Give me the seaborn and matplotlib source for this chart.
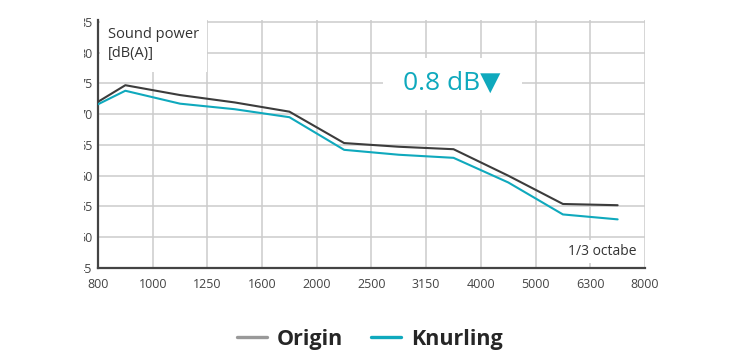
import pandas as pd
import seaborn as sns
import matplotlib.pyplot as plt
from matplotlib.lines import Line2D
from matplotlib.patches import Rectangle

# 1/3 octave band labels (band edges on the axis) and y ticks
freq_labels = ["800", "1000", "1250", "1600", "2000", "2500",
               "3150", "4000", "5000", "6300", "8000"]
db_ticks = [45, 50, 55, 60, 65, 70, 75, 80, 85]

# measured points sit in the middle of each band
band_pos = [0, 0.5, 1.5, 2.5, 3.5, 4.5, 5.5, 6.5, 7.5, 8.5, 9.5]
origin = [72.0, 74.7, 73.1, 71.9, 70.4, 65.3, 64.7, 64.3, 60.0, 55.4, 55.2]
knurling = [71.6, 73.8, 71.7, 70.8, 69.5, 64.2, 63.4, 62.9, 58.9, 53.7, 52.9]

teal = "#0fa9bd"
dark = "#3c3c3c"

df = pd.DataFrame({
    "pos": band_pos * 2,
    "db": origin + knurling,
    "serie": ["Origin"] * len(origin) + ["Knurling"] * len(knurling),
})

sns.set_style("white")
plt.rcParams["font.family"] = ["Open Sans", "DejaVu Sans"]

fig = plt.figure(figsize=(7.4, 3.6), dpi=100)
ax = fig.add_axes([0.1324, 0.2556, 0.7392, 0.6889])

sns.lineplot(data=df, x="pos", y="db", hue="serie",
             palette={"Origin": dark, "Knurling": teal},
             linewidth=1.5, legend=False, ax=ax, zorder=3)

ax.set_xlim(0, 10)
ax.set_ylim(45, 85.3)
ax.set_xticks(range(len(freq_labels)))
ax.set_xticklabels(freq_labels)
ax.set_yticks(db_ticks)
ax.set_xlabel("")
ax.set_ylabel("")
ax.grid(True, color="#cccccc", linewidth=1.1)
ax.set_axisbelow(True)
ax.tick_params(axis="both", length=0, labelsize=9, labelcolor="#444444")
ax.tick_params(axis="x", pad=7)
ax.tick_params(axis="y", pad=4)
for s in ["top", "right"]:
    ax.spines[s].set_visible(False)
for s in ["left", "bottom"]:
    ax.spines[s].set_color("#444444")
    ax.spines[s].set_linewidth(1.6)

# white boxes behind the labels inside the plot
ax.add_patch(Rectangle((0.003, 0.79), 0.196, 0.21, transform=ax.transAxes,
                       facecolor="white", edgecolor="none", zorder=2))
ax.text(0.018, 0.97, "Sound power\n[dB(A)]", transform=ax.transAxes,
        ha="left", va="top", fontsize=10.5, color="#333333",
        linespacing=1.35, zorder=4)

ax.add_patch(Rectangle((0.521, 0.637), 0.254, 0.21, transform=ax.transAxes,
                       facecolor="white", edgecolor="none", zorder=2))
ax.text(0.647, 0.746, "0.8 dB\u25bc", transform=ax.transAxes,
        ha="center", va="center", fontsize=19, color=teal, zorder=4)

ax.text(0.985, 0.035, "1/3 octabe", transform=ax.transAxes,
        ha="right", va="bottom", fontsize=10, color="#333333", zorder=4,
        bbox=dict(facecolor="white", edgecolor="none", pad=3))

# the y labels are cut off on the left in the original
fig.patches.append(Rectangle((0, 0.2), 84 / 740, 0.8, transform=fig.transFigure,
                             facecolor="white", edgecolor="none", zorder=10))

handles = [Line2D([], [], color="#999999", linewidth=2.4),
           Line2D([], [], color=teal, linewidth=2.4)]
fig.legend(handles, ["Origin", "Knurling"], loc="center",
           bbox_to_anchor=(0.5, 0.058), ncol=2, frameon=False,
           prop={"weight": "bold", "size": 15.5},
           handlelength=1.4, handletextpad=0.45, columnspacing=1.3)

fig.savefig("out.png", dpi=100)
plt.close(fig)
